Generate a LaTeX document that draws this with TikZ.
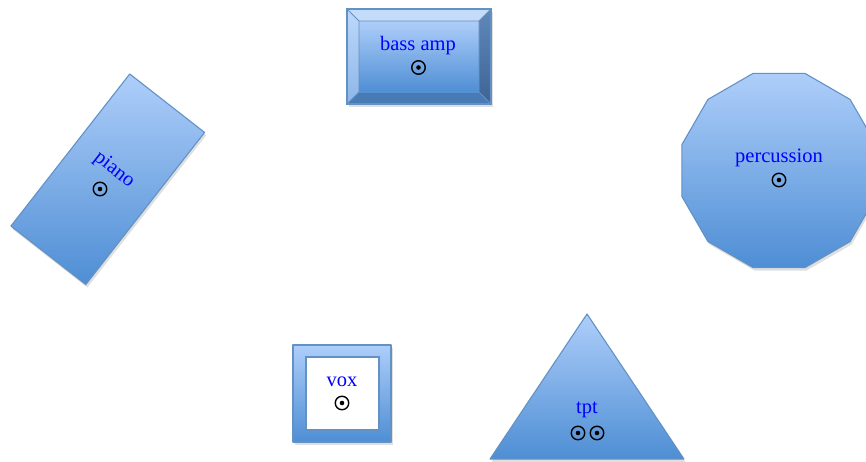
\documentclass[tikz,border=0pt]{standalone}
\usepackage{fontspec}
\setmainfont{Liberation Serif}
\usetikzlibrary{shadows,calc}
\definecolor{topc}{RGB}{174,206,250}
\definecolor{botc}{RGB}{78,142,212}
\definecolor{edgec}{RGB}{98,146,196}
\definecolor{bevtop}{RGB}{196,220,250}
\definecolor{bevleftA}{RGB}{190,216,250}
\definecolor{bevleftB}{RGB}{140,182,232}
\definecolor{bevrightA}{RGB}{96,136,186}
\definecolor{bevrightB}{RGB}{62,100,150}
\definecolor{bevbot}{RGB}{72,122,182}
\definecolor{labc}{RGB}{0,0,255}
\begin{document}
\begin{tikzpicture}[x=1pt,y=-1pt,
  body/.style={draw=edgec, line width=1.1pt, top color=topc, bottom color=botc, line join=round},
  shadowed/.style={drop shadow={opacity=0.25, shadow xshift=1.5pt, shadow yshift=-3pt}},
  lbl/.style={text=labc, font=\fontsize{20.5}{22}\selectfont, inner sep=0pt},
  spot/.style={circle, draw=black, line width=1.4pt, minimum size=13.5pt, inner sep=0pt,
    path picture={\fill[black] (path picture bounding box.center) circle (2.3pt);}}
]
\useasboundingbox (0,0) rectangle (866,461);
\clip (0,0) rectangle (866,461);

% bass amp (bevelled box)
\path[shadowed, fill=botc] (347,9) rectangle (491,104);
\fill[bevtop] (347,9) -- (491,9) -- (479,21) -- (359,21) -- cycle;
\shade[top color=bevleftA, bottom color=bevleftB] (347,9) -- (359,21) -- (359,92) -- (347,104) -- cycle;
\shade[top color=bevrightA, bottom color=bevrightB] (491,9) -- (491,104) -- (479,92) -- (479,21) -- cycle;
\fill[bevbot] (347,104) -- (491,104) -- (479,92) -- (359,92) -- cycle;
\shade[top color=topc, bottom color=botc] (359,21) rectangle (479,92);
\draw[edgec, line width=0.8pt] (359,21) rectangle (479,92)
  (347,9) -- (359,21) (491,9) -- (479,21) (347,104) -- (359,92) (491,104) -- (479,92);
\draw[edgec, line width=1.1pt] (347,9) rectangle (491,104);
\node[lbl] (basslbl) at (418,46) {bass amp};
\node[spot] (bassspot) at (418.5,67.5) {};

% piano (rotated rectangle)
\node[body, shadowed, rectangle, minimum width=95pt, minimum height=193pt,
  rotate=-38, inner sep=0pt, outer sep=0pt] (piano) at (107.75,179.25) {};
\node[lbl, rotate=-38] (pianolbl) at (114,170) {piano};
\node[spot] (pianospot) at (100,189) {};

% percussion (dodecagon)
\coordinate (pc) at (779,170.5);
\path[body, shadowed] ($(pc)+(15:100.5)$)
  \foreach \a in {45,75,...,345} { -- ($(pc)+(\a:100.5)$) } -- cycle;
\node[lbl] (perclbl) at (779,158) {percussion};
\node[spot] (percspot) at (779,180) {};

% vox (frame)
\path[body, shadowed] (293,345) rectangle (391,442);
\path[draw=edgec, line width=1.1pt, fill=white] (306,357) rectangle (379,430);
\node[lbl] (voxlbl) at (342,382) {vox};
\node[spot] (voxspot) at (342,403) {};

% tpt (triangle)
\path[body, shadowed] (587,314) -- (684,459) -- (490,459) -- cycle;
\node[lbl] (tptlbl) at (587,410) {tpt};
\node[spot] (tptspotA) at (578,433) {};
\node[spot] (tptspotB) at (597,433) {};
\end{tikzpicture}
\end{document}
